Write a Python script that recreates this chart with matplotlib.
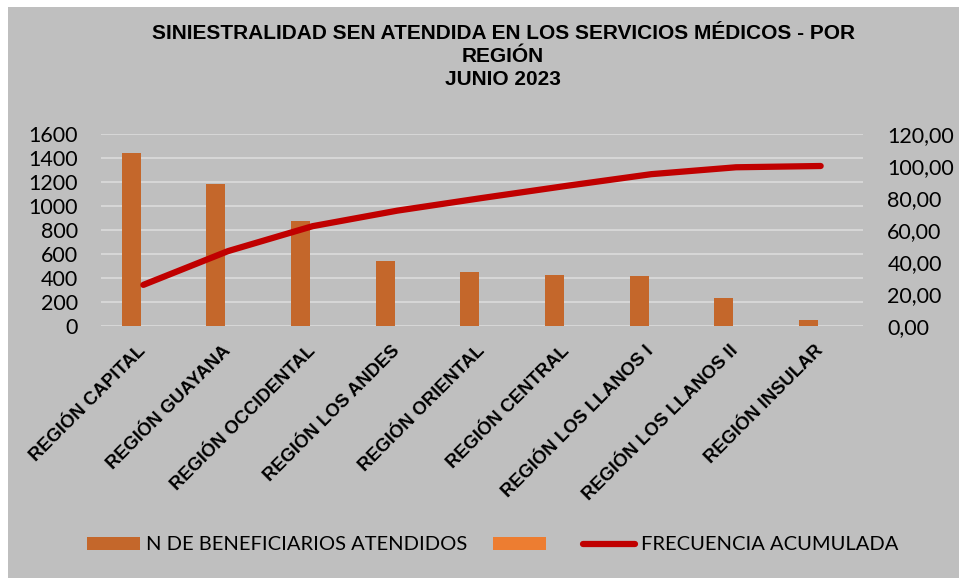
import matplotlib
matplotlib.use("Agg")
import matplotlib.pyplot as plt
from matplotlib.patches import Patch, Rectangle
from matplotlib.lines import Line2D
import numpy as np

categories = ["REGIÓN CAPITAL", "REGIÓN GUAYANA", "REGIÓN OCCIDENTAL", "REGIÓN LOS ANDES",
              "REGIÓN ORIENTAL", "REGIÓN CENTRAL", "REGIÓN LOS LLANOS I", "REGIÓN LOS LLANOS II",
              "REGIÓN INSULAR"]
beneficiarios = [1444, 1183, 872, 544, 447, 422, 414, 236, 47]
frecuencia_acum = [25.7, 46.8, 62.4, 72.1, 80.0, 87.6, 94.9, 99.2, 100.0]
left_ticks = [0, 200, 400, 600, 800, 1000, 1200, 1400, 1600]
right_ticks = [0, 20, 40, 60, 80, 100, 120]
right_labels = ["0,00", "20,00", "40,00", "60,00", "80,00", "100,00", "120,00"]
title = "SINIESTRALIDAD SEN ATENDIDA EN LOS SERVICIOS MÉDICOS - POR\nREGIÓN\nJUNIO 2023"
legend_labels = ["N DE BENEFICIARIOS ATENDIDOS", " ", "FRECUENCIA ACUMULADA"]

BG = "#BFBFBF"
BAR = "#C4672B"
BAR2 = "#ED7D31"
LINE = "#C00000"
GRID = "#D9D9D9"
TFONT = "Liberation Sans"
BFONT = "Lato"

fig = plt.figure(figsize=(9.59, 5.78), dpi=100)
fig.patch.set_facecolor("white")
fig.patches.append(Rectangle((8/959, 0), 1, 1 - 7/578, transform=fig.transFigure,
                             facecolor=BG, edgecolor="none", zorder=-10))

ax = fig.add_axes([101/959, 1 - 326/578, (863 - 101)/959, (326 - 134)/578])
ax.set_facecolor("none")
x = np.arange(len(categories))
ax.bar(x - 0.145, beneficiarios, width=0.225, color=BAR, zorder=3)
ax.set_xlim(-0.5, len(categories) - 0.5)
ax.set_ylim(0, 1600)
ax.set_yticks(left_ticks)
ax.set_yticklabels([str(v) for v in left_ticks], fontfamily=BFONT, fontsize=15.5)
ax.yaxis.grid(True, color=GRID, linewidth=1.3, zorder=0)
ax.set_axisbelow(True)
for s in ax.spines.values():
    s.set_visible(False)
ax.tick_params(axis="both", length=0)
ax.tick_params(axis="y", pad=16.5)
ax.set_xticks(x)
ax.set_xticklabels(categories, rotation=45, ha="right", va="center", rotation_mode="anchor",
                   fontfamily=TFONT, fontweight="bold", fontsize=13.2)
ax.tick_params(axis="x", pad=16)

ax2 = ax.twinx()
ax2.plot(x, frecuencia_acum, color=LINE, linewidth=4.5, solid_capstyle="round", zorder=5)
ax2.set_ylim(0, 120)
ax2.set_yticks(right_ticks)
ax2.set_yticklabels(right_labels, fontfamily=BFONT, fontsize=15.5)
for s in ax2.spines.values():
    s.set_visible(False)
ax2.tick_params(axis="y", length=0, pad=17.5)

fig.text(503/959, 1 - 24/578, title, ha="center", va="top", fontfamily=TFONT,
         fontweight="bold", fontsize=15, linespacing=1.27)

handles = [Patch(facecolor=BAR), Patch(facecolor=BAR2),
           Line2D([0], [0], color=LINE, linewidth=4.5, solid_capstyle="round")]
fig.legend(handles, legend_labels, loc="center", bbox_to_anchor=(493/959, 1 - 545/578),
           ncol=3, frameon=False, prop={"family": BFONT, "size": 14.5},
           handlelength=2.6, handleheight=0.65, handletextpad=0.3, columnspacing=1.3)

fig.savefig("out.png", dpi=100, facecolor=fig.get_facecolor())
